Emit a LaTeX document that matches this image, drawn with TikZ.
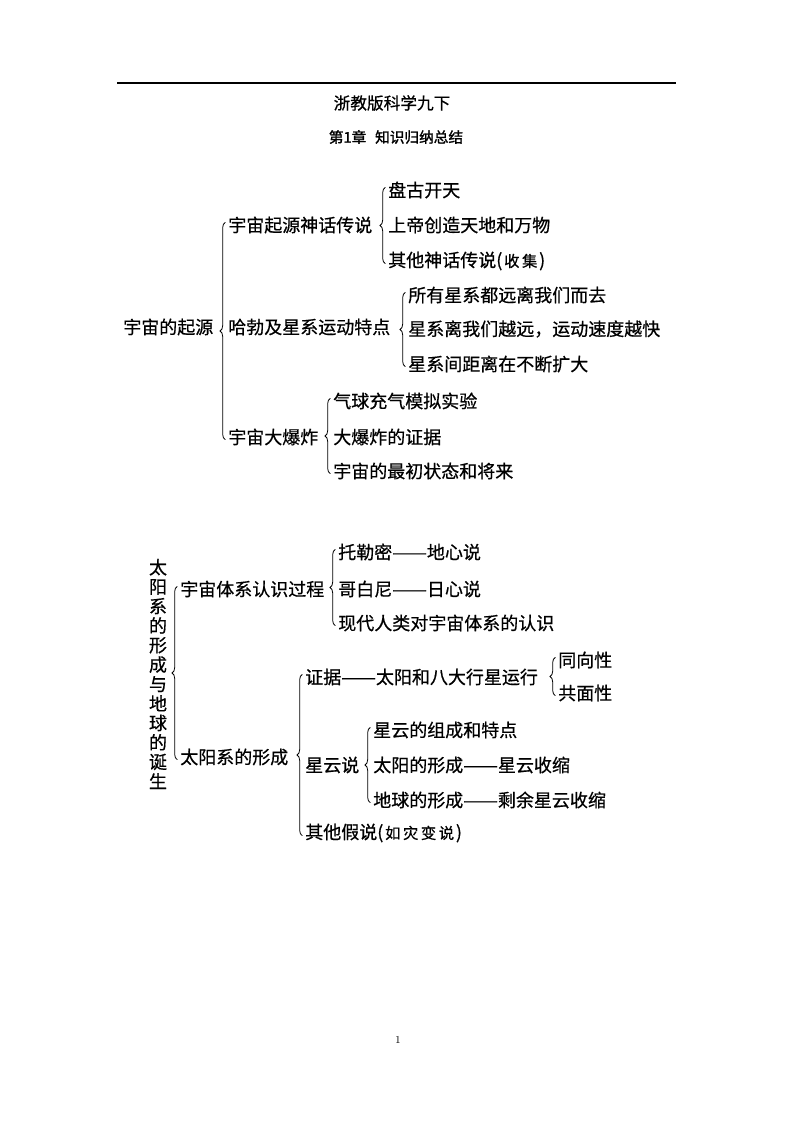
\documentclass[tikz,border=0pt]{standalone}
\usepackage{fontspec}
\newfontfamily\cjk{Noto Sans CJK SC}[FakeBold=0.6]
\newfontfamily\cjkbold{Noto Sans CJK SC}[FakeBold=1.5]
\usetikzlibrary{decorations.pathreplacing}

\tikzstyle{every node}=[anchor=west, inner sep=0pt, font=\cjk\fontsize{13.5}{14}\selectfont]
\tikzstyle{brc}=[decorate, decoration={brace, amplitude=4pt}, line width=0.6pt]
\newcommand{\dsh}{\scalebox{1.15}[1]{——}}

\begin{document}
\begin{tikzpicture}[x=0.75pt, y=-0.75pt]
  \useasboundingbox (0,0) rectangle (794,1123);
  \draw[line width=0.8pt] (117,83) -- (676,83);
  \node[anchor=center, font=\cjk\fontsize{12.5}{13}\selectfont] (title) at (392,103) {浙教版科学九下};
  \node[anchor=center, font=\cjkbold\fontsize{11}{12}\selectfont] (chap) at (396,137) {第1章\hspace{0.6em}知识归纳总结};

  % 宇宙的起源
  \node (origin) at (123,327) {宇宙的起源};
  \node (myth) at (228,225) {宇宙起源神话传说};
  \node (myth1) at (388,190) {盘古开天};
  \node (myth2) at (388,225) {上帝创造天地和万物};
  \node (myth3) at (388,261) {其他神话传说(\hspace{0.1em}{\fontsize{11.5}{12}\selectfont 收\,集}\hspace{0.1em})};
  \node (hubble) at (228,327) {哈勃及星系运动特点};
  \node (hubble1) at (408,295) {所有星系都远离我们而去};
  \node (hubble2) at (408,329) {星系离我们越远，运动速度越快};
  \node (hubble3) at (408,364) {星系间距离在不断扩大};
  \node (bang) at (228,437) {宇宙大爆炸};
  \node (bang1) at (333,401) {气球充气模拟实验};
  \node (bang2) at (333,437) {大爆炸的证据};
  \node (bang3) at (333,471) {宇宙的最初状态和将来};

  \draw[brc] ([xshift=-2pt,yshift=-2pt]bang.west) -- ([xshift=-2pt,yshift=2pt]myth.west);
  \draw[brc] ([xshift=-2pt,yshift=-2pt]myth3.west) -- ([xshift=-2pt,yshift=2pt]myth1.west);
  \draw[brc] ([xshift=-2pt,yshift=-2pt]hubble3.west) -- ([xshift=-2pt,yshift=2pt]hubble1.west);
  \draw[brc] ([xshift=-2pt,yshift=-2pt]bang3.west) -- ([xshift=-2pt,yshift=2pt]bang1.west);

  % 太阳系的形成与地球的诞生
  \node[anchor=center, align=center, font=\cjk\fontsize{13.5}{14.6}\selectfont] (solar) at (158,674)
    {太\\阳\\系\\的\\形\\成\\与\\地\\球\\的\\诞\\生};
  \node (view) at (180,589) {宇宙体系认识过程};
  \node (view1) at (338,552) {托勒密\dsh 地心说};
  \node (view2) at (338,589) {哥白尼\dsh 日心说};
  \node (view3) at (338,623) {现代人类对宇宙体系的认识};
  \node (form) at (180,757) {太阳系的形成};
  \node (proof) at (305,677) {证据\dsh 太阳和八大行星运行};
  \node (proof1) at (558,660) {同向性};
  \node (proof2) at (558,693) {共面性};
  \node (nebula) at (305,765) {星云说};
  \node (nebula1) at (373,730) {星云的组成和特点};
  \node (nebula2) at (373,765) {太阳的形成\dsh 星云收缩};
  \node (nebula3) at (373,800) {地球的形成\dsh 剩余星云收缩};
  \node (other) at (305,833) {其他假说(\hspace{0.1em}{\fontsize{11.5}{12}\selectfont 如\,灾\,变\,说}\hspace{0.1em})};

  \draw[brc] ([xshift=-2pt,yshift=-2pt]form.west) -- ([xshift=-2pt,yshift=2pt]view.west);
  \draw[brc] ([xshift=-2pt,yshift=-2pt]view3.west) -- ([xshift=-2pt,yshift=2pt]view1.west);
  \draw[brc] ([xshift=-2pt,yshift=-2pt]other.west) -- ([xshift=-2pt,yshift=2pt]proof.west);
  \draw[brc] ([xshift=-2pt,yshift=-2pt]proof2.west) -- ([xshift=-2pt,yshift=2pt]proof1.west);
  \draw[brc] ([xshift=-2pt,yshift=-2pt]nebula3.west) -- ([xshift=-2pt,yshift=2pt]nebula1.west);

  \node[anchor=center, font=\fontsize{8}{9}\selectfont] (page) at (398,1040) {1};
\end{tikzpicture}
\end{document}
